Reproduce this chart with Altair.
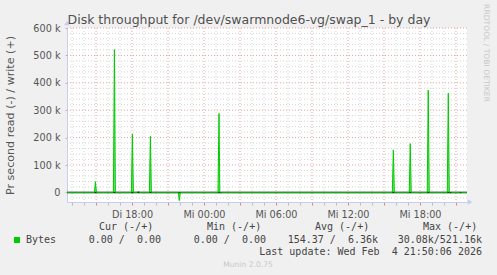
import altair as alt
import pandas as pd

# ---- data (hours since Tue 00:00, bytes per second; + write, - read) ----
spike_hours = [14.95, 16.53, 18.03, 18.53, 19.53, 21.94, 25.25, 25.40, 39.78, 41.19, 42.69, 44.36, 44.53, 45.39]
spike_values = [39000, 521160, 213000, 5000, 205000, -30080, 288000, -2000, 155000, 178000, 373000, 362000, -3000, -2000]

x_domain = [12.58, 45.92]
y_domain = [-35000, 600000]
y_major = [0, 100000, 200000, 300000, 400000, 500000, 600000]
y_minor = [-20000] + [v for v in range(20000, 600000, 20000) if v % 100000 != 0]
x_hours = list(range(13, 46))
x_major = [h for h in x_hours if h % 3 == 0]
x_minor = [h for h in x_hours if h % 3 != 0]

title_text = "Disk throughput for /dev/swarmnode6-vg/swap_1 - by day"
y_title = "Pr second read (-) / write (+)"
legend_headers = ["Cur (-/+)", "Min (-/+)", "Avg (-/+)", "Max (-/+)"]
legend_values = ["0.00 /  0.00", "0.00 /  0.00", "154.37 /  6.36k", "30.08k/521.16k"]
series_name = "Bytes"
last_update = "Last update: Wed Feb  4 21:50:06 2026"
munin_ver = "Munin 2.0.75"
watermark = "RRDTOOL / TOBI OETIKER"

PX = 1.0 / 12.0  # one pixel (5 min) in hours
rows = [{"h": x_domain[0], "v": 0}]
for h, v in zip(spike_hours, spike_values):
    rows += [{"h": h - PX, "v": 0}, {"h": h, "v": v}, {"h": h + PX, "v": 0}]
rows.append({"h": x_domain[1], "v": 0})
series = pd.DataFrame(rows)

W, H = 400, 174
GREEN = "#00CC00"
TXT = "#555555"
AXC = "#C8CCEE"

xs = alt.Scale(domain=x_domain, nice=False, zero=False)
ys = alt.Scale(domain=y_domain, nice=False, zero=False)

label_expr_x = ("datum.value % 6 === 0 ? ((datum.value < 24 ? 'Di ' : 'Mi ') + "
                "((datum.value % 24) < 10 ? '0' : '') + (datum.value % 24) + ':00') : ''")
label_expr_y = "datum.value === 0 ? '0\u00a0\u00a0' : (datum.value / 1000) + ' k'"

x_axis = alt.Axis(values=x_hours, labelExpr=label_expr_x, grid=False,
                  domainColor=AXC, domainWidth=1, tickSize=3,
                  tickColor={"condition": {"test": "datum.value % 3 === 0", "value": "#E08080"},
                             "value": "#BBBBBB"},
                  labelFont="DejaVu Sans", labelFontSize=9.7, labelColor=TXT,
                  labelPadding=4, labelOverlap=False, labelFlush=False, labelBound=False)
y_axis = alt.Axis(values=y_major, labelExpr=label_expr_y, grid=False,
                  domainColor=AXC, domainWidth=1, tickSize=2, tickColor="#BBBBBB",
                  labelFont="DejaVu Sans", labelFontSize=9.7, labelColor=TXT,
                  labelPadding=5, labelOverlap=False, labelFlush=False,
                  titleFont="DejaVu Sans", titleFontSize=11.1, titleColor=TXT,
                  titleFontWeight="normal", titleX=-57, titleY=H / 2,
                  titleAngle=270, titleAlign="center", titleBaseline="middle")

base = alt.Chart(series).encode(
    x=alt.X("h:Q", scale=xs, title=None, axis=x_axis),
    y=alt.Y("v:Q", scale=ys, title=y_title, axis=y_axis),
)

minor_h = alt.Chart(pd.DataFrame({"v": y_minor})).mark_rule(
    color="#D4D4D4", strokeDash=[1, 2], strokeWidth=1
).encode(y=alt.Y("v:Q", scale=ys, title=y_title, axis=y_axis))
major_h = alt.Chart(pd.DataFrame({"v": y_major})).mark_rule(
    color="#E8A0A0", strokeDash=[1, 2], strokeWidth=1
).encode(y=alt.Y("v:Q", scale=ys, title=y_title, axis=y_axis))
minor_v = alt.Chart(pd.DataFrame({"h": x_minor})).mark_rule(
    color="#D4D4D4", strokeDash=[1, 2], strokeWidth=1
).encode(x=alt.X("h:Q", scale=xs, title=None, axis=x_axis))
major_v = alt.Chart(pd.DataFrame({"h": x_major})).mark_rule(
    color="#E8A0A0", strokeDash=[1, 2], strokeWidth=1
).encode(x=alt.X("h:Q", scale=xs, title=None, axis=x_axis))

zero_line = alt.Chart(pd.DataFrame({"v": [0]})).mark_rule(
    color="#000000", strokeWidth=1.5
).encode(y=alt.Y("v:Q", scale=ys, title=y_title, axis=y_axis))

area = base.mark_area(color=GREEN, opacity=0.55, interpolate="linear")
line = base.mark_line(color=GREEN, strokeWidth=1, interpolate="linear")

arrow_up = alt.Chart(pd.DataFrame({"a": [0]})).mark_point(
    shape="triangle-up", filled=True, color=AXC, size=30, opacity=1
).encode(x=alt.value(0), y=alt.value(-5))
arrow_right = alt.Chart(pd.DataFrame({"a": [0]})).mark_point(
    shape="triangle-right", filled=True, color=AXC, size=30, opacity=1
).encode(x=alt.value(W + 3), y=alt.value(H))


def txt(s, x, y, size=10, font="DejaVu Sans Mono", align="left", color="#444444", angle=0, baseline="alphabetic"):
    return alt.Chart(pd.DataFrame({"t": [s.replace(" ", "\u00a0")]})).mark_text(
        font=font, fontSize=size, align=align, baseline=baseline, color=color, angle=angle
    ).encode(text="t:N", x=alt.value(x), y=alt.value(y))


texts = [
    txt(title_text, 182, -4, size=12.5, font="DejaVu Sans", align="center", color="#505050"),
    txt(watermark, 419, 25, size=7.6, font="DejaVu Sans", align="center", color="#C8C8C8", angle=90, baseline="middle"),
    txt(series_name, -41, 215),
    txt(last_update, 415, 227, align="right"),
    txt(munin_ver, 181, 239, size=7.6, font="DejaVu Sans", align="center", color="#C8C8C8"),
]
for hx, s in zip([32, 140, 248, 356], legend_headers):
    texts.append(txt(s, hx, 202))
for vx, s in zip([94, 199, 311, 415], legend_values):
    texts.append(txt(s, vx, 215, align="right"))

legend_sq = alt.Chart(pd.DataFrame({"a": [0]})).mark_square(
    color=GREEN, size=36, opacity=1
).encode(x=alt.value(-50), y=alt.value(212))

chart = alt.layer(
    minor_h, minor_v, major_h, major_v, zero_line, area, line, arrow_up, arrow_right, legend_sq, *texts
).properties(
    width=W, height=H,
    autosize=alt.AutoSizeParams(type="none"),
    padding={"left": 67, "top": 28, "right": 30, "bottom": 73},
    background="#F0F0F0",
).configure_view(fill="#FFFFFF", strokeWidth=0)

chart.save("out.html", embed_options={"renderer": "svg", "actions": False})
